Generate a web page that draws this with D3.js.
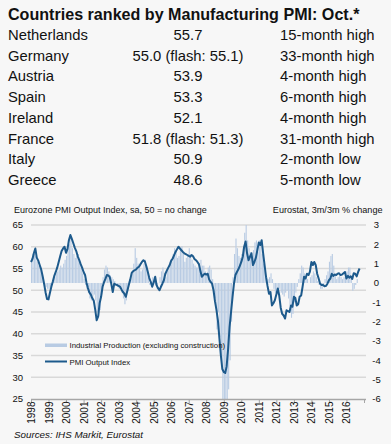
<!DOCTYPE html>
<html><head><meta charset="utf-8">
<script src="https://cdn.jsdelivr.net/npm/d3@7"></script>
<style>
html,body{margin:0;padding:0;background:#f7f7f7;}
svg{display:block;font-family:"Liberation Sans",Arial,sans-serif;}
</style></head><body>
<svg id="c" width="391" height="444"></svg>
<script>
// ---- table data ----
const title = "Countries ranked by Manufacturing PMI: Oct.*";
const countries = ["Netherlands","Germany","Austria","Spain","Ireland","France","Italy","Greece"];
const pmiReadings = [55.7, 55.0, 53.9, 53.3, 52.1, 51.8, 50.9, 48.6];
const flashReadings = [null, 55.1, null, null, null, 51.3, null, null];
const statusNotes = ["15-month high","33-month high","4-month high","6-month high","4-month high","31-month high","2-month low","5-month low"];

// ---- chart data ----
const leftTitle = "Eurozone PMI Output Index, sa, 50 = no change";
const rightTitle = "Eurostat, 3m/3m % change";
const sourceNote = "Sources: IHS Markit, Eurostat";
const seriesNames = ["Industrial Production (excluding construction)", "PMI Output Index"];
const yearTicks = d3.range(1998, 2017);
const leftTicks = [25,30,35,40,45,50,55,60,65];
const rightTicks = [-6,-5,-4,-3,-2,-1,0,1,2,3];
const seriesStart = new Date(1998, 0, 1);

// PMI Output Index, monthly from Jan 1998
const pmiOutput = [
56.5,57.2,58.5,59.6,57.5,56.8,55.8,54.8,53.2,51.5,49.5,48.0,
47.9,49.5,50.8,52.0,53.3,54.2,55.2,56.5,57.8,59.0,59.6,60.0,
58.6,59.5,61.5,62.7,61.8,60.8,59.8,59.0,57.8,57.0,56.0,55.2,
54.2,53.5,51.8,50.5,49.5,49.0,48.2,47.6,45.5,43.1,44.0,47.0,
48.5,50.8,51.8,52.6,53.5,53.4,53.0,51.5,49.6,51.5,51.3,51.2,
51.0,50.8,50.2,49.6,49.2,48.5,49.8,51.2,52.5,54.0,54.4,54.6,
54.8,55.2,55.4,56.0,56.5,56.9,56.6,55.5,54.2,52.8,51.9,50.8,
51.8,53.1,51.2,50.5,50.0,50.8,51.5,52.3,53.8,54.5,55.2,55.8,
56.8,57.3,58.0,58.8,59.4,60.0,59.6,59.2,58.8,58.5,58.3,58.1,
57.9,57.7,58.1,57.8,57.2,56.9,56.5,56.0,54.5,53.1,53.5,53.8,
53.6,53.8,52.5,51.9,51.5,50.0,47.5,45.5,43.0,39.0,35.0,31.9,
31.2,31.0,32.5,36.5,41.5,45.0,48.3,51.5,53.5,54.2,54.8,55.6,
56.5,57.7,60.0,61.2,58.5,56.9,57.7,58.5,55.8,56.5,57.5,59.2,
61.0,60.4,61.5,58.5,55.8,53.0,51.0,49.2,49.6,46.5,47.0,47.7,
49.0,50.4,48.8,46.0,44.6,44.2,43.5,45.4,45.2,45.0,46.5,46.2,
48.5,48.2,46.5,46.8,48.5,48.8,50.8,53.1,52.7,53.8,53.5,54.3,
56.5,55.8,56.5,55.8,53.8,52.7,51.5,51.2,51.2,50.9,51.0,51.5,
52.3,52.7,53.8,53.3,53.6,53.5,53.8,53.9,53.5,53.6,53.9,54.2,
52.7,53.3,52.9,53.2,52.6,53.9,53.8,53.2,54.2,55.0
];

// Industrial production (excl. construction), 3m/3m % change, monthly from Jan 1998
const industrialProduction = [
1.3,1.5,1.5,1.4,1.1,0.9,0.8,0.5,0.3,0.0,-0.2,-0.3,
-0.3,-0.2,-0.1,0.1,0.3,0.5,0.6,0.7,0.9,0.8,1.0,1.2,
1.4,1.8,2.0,2.3,1.8,1.5,1.3,1.4,1.5,1.1,0.8,0.5,
0.2,-0.1,-0.3,-0.5,-0.8,-0.9,-0.7,-0.6,-0.9,-1.5,-1.7,-1.4,
-0.6,0.3,0.7,0.9,0.8,0.6,0.4,0.3,0.2,0.1,-0.1,-0.2,
-0.3,-0.2,-0.5,-0.8,-1.1,-0.9,-0.4,0.1,0.3,0.6,1.0,1.8,
1.3,1.0,0.8,0.6,0.7,1.0,1.2,0.8,0.3,-0.1,0.1,0.3,
0.2,-0.1,-0.3,0.0,0.3,0.6,0.8,0.5,0.3,0.7,0.9,1.1,
1.2,1.5,1.8,1.6,1.3,1.4,1.7,1.9,1.5,1.1,1.3,1.5,
1.8,1.5,1.2,1.0,0.9,0.8,0.8,1.0,1.2,0.9,0.9,0.6,
0.5,0.8,0.9,0.7,0.2,-0.5,-0.8,-2.4,-1.5,-2.8,-3.8,-6.0,
-6.0,-6.0,-6.0,-5.5,-4.0,-2.0,0.3,1.5,2.3,1.8,1.4,1.3,
1.5,1.8,2.6,3.0,2.2,1.8,1.6,1.4,1.7,2.1,2.2,1.6,
2.2,1.9,1.5,1.0,0.6,0.3,0.2,0.3,0.5,0.2,-0.3,-0.5,
-0.6,-0.4,-0.3,-0.5,-0.6,-0.7,-0.5,-0.4,-0.8,-1.2,-1.8,-1.6,
-1.0,-0.5,-0.2,0.2,0.5,0.9,0.8,0.5,0.3,0.2,0.0,0.3,
0.4,0.6,0.5,0.3,0.1,-0.1,-0.3,-0.3,-0.1,0.2,0.4,0.6,
1.1,1.4,1.5,0.9,0.5,0.2,0.3,0.4,0.3,0.2,0.3,0.6,
0.6,0.8,0.8,0.2,-0.4,-0.3,-0.1,0.2
];

// ---- drawing ----
const svg = d3.select("#c");
const textColor = "#111";
const lineColor = "#1d5a8c";
const barColor = "#b8cbe3";
const gridColor = "#d9d9d9";

// title + table
svg.append("text").attr("x", 8).attr("y", 19.5)
  .attr("font-size", 16.1).attr("font-weight", "bold").attr("fill", textColor).text(title);

const rowY = d3.scalePoint().domain(d3.range(countries.length)).range([40, 185]);
const rows = svg.append("g").selectAll("g").data(countries).join("g")
  .attr("transform", (d, i) => `translate(0,${rowY(i)})`)
  .attr("font-size", 14.8).attr("fill", textColor);
rows.append("text").attr("x", 8).text(d => d);
rows.append("text").attr("x", 188).attr("text-anchor", "middle")
  .text((d, i) => pmiReadings[i].toFixed(1) + (flashReadings[i] != null ? ` (flash: ${flashReadings[i].toFixed(1)})` : ""));
rows.append("text").attr("x", 280).text((d, i) => statusNotes[i]);

// chart scales
const x = d3.scaleTime().domain([new Date(1998,0,1), new Date(2017,0,1)]).range([31, 364]);
const yL = d3.scaleLinear().domain([25, 65]).range([399, 225]);
const yR = d3.scaleLinear().domain([-6, 3]).range([399, 225]).clamp(true);
const gridX0 = 31, gridX1 = 366;

svg.append("text").attr("x", 14).attr("y", 212.5).attr("font-size", 9.0).attr("fill", textColor).text(leftTitle);
svg.append("text").attr("x", 382.5).attr("y", 212.5).attr("font-size", 9.1).attr("text-anchor", "end").attr("fill", textColor).text(rightTitle);

// gridlines
svg.append("g").selectAll("line").data(leftTicks.filter(t => t > 25)).join("line")
  .attr("x1", gridX0).attr("x2", gridX1).attr("y1", d => yL(d)).attr("y2", d => yL(d))
  .attr("stroke", gridColor).attr("stroke-width", 1.5);

// left axis labels
svg.append("g").selectAll("text").data(leftTicks).join("text")
  .attr("x", 23).attr("y", d => yL(d) + 3.3).attr("text-anchor", "end")
  .attr("font-size", 9.5).attr("fill", textColor).text(d => d);
// right axis labels
svg.append("g").selectAll("text").data(rightTicks).join("text")
  .attr("x", 376.5).attr("y", d => yR(d) + 3.3).attr("text-anchor", "middle")
  .attr("font-size", 9.5).attr("fill", textColor).text(d => d);

// bars
const months = i => d3.timeMonth.offset(seriesStart, i);
svg.append("g").selectAll("rect").data(industrialProduction).join("rect")
  .attr("x", (d, i) => x(months(i)))
  .attr("width", (d, i) => Math.max(0.5, x(months(i + 1)) - x(months(i)) - 0.35))
  .attr("y", d => yR(Math.max(d, 0)))
  .attr("height", d => Math.abs(yR(d) - yR(0)))
  .attr("fill", barColor);

// PMI line
const line = d3.line().x((d, i) => x(months(i))).y(d => yL(d)).curve(d3.curveLinear);
svg.append("path").datum(pmiOutput).attr("d", line)
  .attr("fill", "none").attr("stroke", lineColor).attr("stroke-width", 2).attr("stroke-linejoin", "round");

// x axis
const xAxis = d3.axisBottom(x)
  .tickValues(yearTicks.map(y => new Date(y, 0, 1)).concat([new Date(2017, 0, 1)]))
  .tickFormat(d => d.getFullYear() <= 2016 ? d3.timeFormat("%Y")(d) : "")
  .tickSizeInner(4).tickSizeOuter(0);
const gx = svg.append("g").attr("transform", "translate(0,399)").call(xAxis);
gx.select(".domain").attr("stroke", "#a6a6a6").attr("stroke-width", 1.5).attr("d", `M${gridX0},0.5H${gridX1}`);
gx.selectAll(".tick line").attr("stroke", "#a6a6a6").attr("stroke-width", 1);
gx.selectAll(".tick text")
  .attr("font-size", 10).attr("font-family", '"Liberation Sans",Arial,sans-serif').attr("fill", textColor)
  .attr("transform", "rotate(-90)").attr("text-anchor", "end")
  .attr("x", -2.5).attr("y", 0).attr("dy", "0.35em");

// legend
const lg = svg.append("g").attr("font-size", 7.8).attr("fill", textColor);
lg.append("rect").attr("x", 45).attr("y", 343.5).attr("width", 22).attr("height", 3.5).attr("fill", barColor);
lg.append("text").attr("x", 69.5).attr("y", 348).text(seriesNames[0]);
lg.append("line").attr("x1", 45).attr("x2", 67).attr("y1", 361.5).attr("y2", 361.5).attr("stroke", lineColor).attr("stroke-width", 2);
lg.append("text").attr("x", 69.5).attr("y", 364.5).text(seriesNames[1]);

// source
svg.append("text").attr("x", 14).attr("y", 437.5).attr("font-size", 9.8).attr("font-style", "italic").attr("fill", textColor).text(sourceNote);
</script>
</body></html>
